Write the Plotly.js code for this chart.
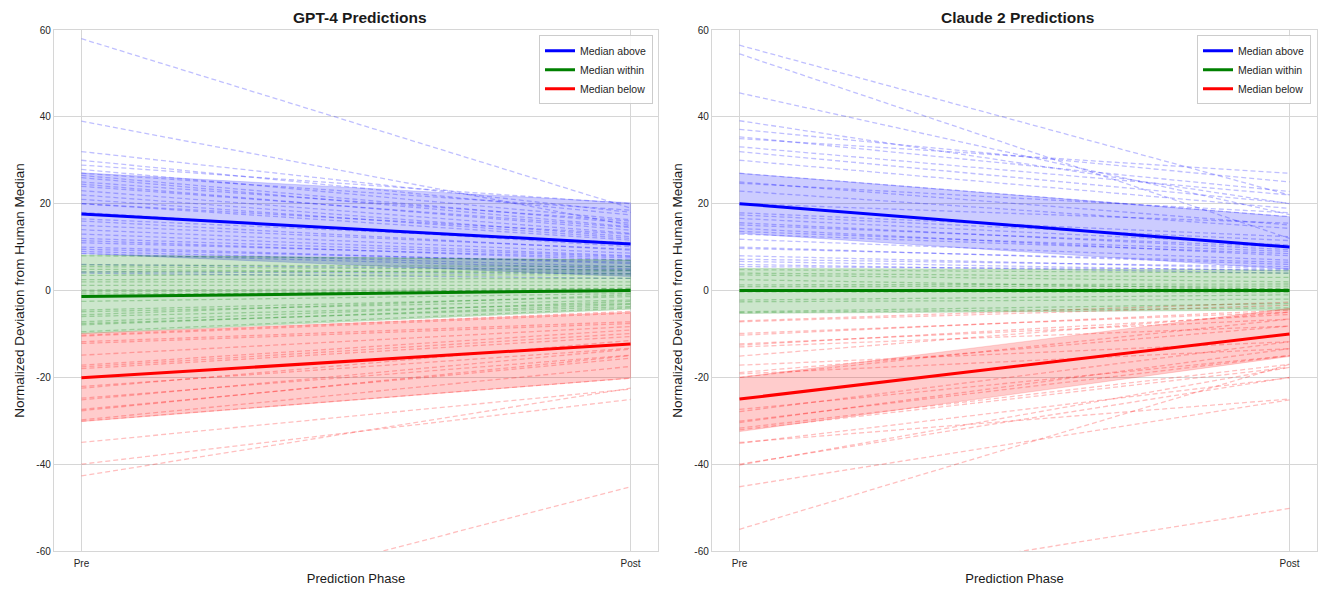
<!DOCTYPE html>
<html>
<head>
<meta charset="utf-8">
<script src="https://cdn.plot.ly/plotly-3.0.1.min.js"></script>
<style>html,body{margin:0;padding:0;background:#fff;}#chart{width:1329px;height:598px;}</style>
</head>
<body>
<div id="chart"></div>
<script>
// ---------- DATA ----------
const phases = ['Pre', 'Post'];
const panelTitles = ['GPT-4 Predictions', 'Claude 2 Predictions'];
const legendNames = ['Median above', 'Median within', 'Median below'];
const yTickValues = [-60, -40, -20, 0, 20, 40, 60];
const yTickLabels = ['-60', '-40', '-20', '0', '20', '40', '60'];

// GPT-4 individual questions
const gpt4AbovePre  = [58, 39, 32, 30, 28.9, 27.9, 27, 26.5, 26, 25, 24.5, 24, 23, 22, 21, 20, 20, 18, 16.5, 16, 15, 14, 13, 12, 11.5, 11, 10, 9.5, 9, 8.5, 6, 4.3, 4];
const gpt4AbovePost = [19, 15, 18, 17.4, 20, 16.3, 18.5, 15.5, 14.7, 16, 13.9, 14.5, 13.2, 12.4, 12, 11.6, 13, 10.1, 11, 9.3, 9.5, 8.6, 8, 7.8, 7, 7.5, 6.2, 6.5, 5.5, 5, 4.7, 3.9, 2.8];
const gpt4WithinPre  = [8, 5.9, 5.5, 4.9, 4.3, 3.5, 2.5, 2.0, 1.2, 0.1, -0.3, -0.8, -1.3, -2.5, -4.5, -4.9, -5.6, -6.0, -7.2, -7.6, -7.9, -9.5];
const gpt4WithinPost = [7, 5.5, 4.7, 3.9, 4.5, 3.6, 2.8, 2.0, 1.2, 0.5, 0.1, -0.3, 0.5, -0.7, -1.4, -2.2, -1.0, -3.0, -2.5, -3.7, -3.2, -4.0];
const gpt4BelowPre  = [-10.3, -10.5, -11.8, -12.2, -14.9, -17.2, -17.6, -18, -22.1, -22.5, -24.8, -25.2, -27.4, -27.7, -29.8, -30.1, -35, -40, -42.7, -78];
const gpt4BelowPost = [-4.8, -5.2, -7.2, -7.6, -8.3, -9.1, -9.9, -10.6, -13.3, -11.5, -14.9, -13.5, -15.6, -15, -17.5, -20.2, -22.7, -25.1, -22.5, -45.2];

// GPT-4 medians and bands
const gpt4MedAbove  = [17.6, 10.7];
const gpt4MedWithin = [-1.4, 0];
const gpt4MedBelow  = [-20.1, -12.3];
const gpt4AboveLow  = [8.5, 3.2],   gpt4AboveHigh  = [27.1, 20.2];
const gpt4WithinLow = [-9.9, -4.3], gpt4WithinHigh = [8.2, 7.0];
const gpt4BelowLow  = [-30.2, -20.2], gpt4BelowHigh = [-9.9, -5.0];

// Claude 2 individual questions
const claudeAbovePre  = [56.5, 54.5, 45.5, 39.1, 37.1, 35.4, 35.0, 33.1, 32.0, 30.0, 27, 25.0, 24.7, 22.9, 20, 17.9, 17.4, 16.6, 15.6, 15.1, 14.3, 13.6, 13.0, 11.8, 10.0, 9.7, 8.0, 7.2, 6.7, 6.0, 5.5];
const claudeAbovePost = [22, 12, 17.5, 20, 25, 22.8, 27, 22, 20.1, 18.9, 17, 15.1, 17.9, 14.3, 15.5, 12.4, 11.5, 10.5, 9.4, 10, 8, 9, 8.5, 7, 6, 6.5, 5, 5.5, 4.5, 4.0, 4.8];
const claudeWithinPre  = [4.8, 4.0, 3.6, 2.5, 1.3, 0.9, 0.1, -0.3, -2.2, -2.6, -4.9, -5.1];
const claudeWithinPost = [4.0, 3.0, 2.0, 0.3, 1.5, 1.0, 0.5, -0.5, -1.0, -2.0, -3.0, -4.0];
const claudeBelowPre  = [-7.0, -7.2, -9.9, -10.3, -12.3, -12.6, -13.0, -15.1, -17.2, -18.9, -19.2, -20.0, -27.4, -27.9, -30.1, -30.4, -31.7, -32.1, -35.0, -35.2, -40.0, -40.2, -45.2, -55.0, -70.4];
const claudeBelowPost = [-2.7, -3.4, -5.0, -4.5, -6.6, -5.5, -8.2, -5.0, -11.8, -8.2, -13.4, -6.6, -15.0, -11.8, -15.0, -13.4, -17.0, -17.7, -25.0, -20.1, -20.0, -17.7, -25.2, -17.0, -50.2];

// Claude 2 medians and bands
const claudeMedAbove  = [20, 10];
const claudeMedWithin = [0, 0];
const claudeMedBelow  = [-25, -10];
const claudeAboveLow  = [13.2, 4.9],  claudeAboveHigh  = [27, 17];
const claudeWithinLow = [-5.3, -4.5], claudeWithinHigh = [5.1, 4.7];
const claudeBelowLow  = [-32.5, -15.2], claudeBelowHigh = [-20, -4.1];

// ---------- BUILD ----------
const colors = ['0,0,255', '0,128,0', '255,0,0'];
const panels = [
  {groups: [[gpt4AbovePre, gpt4AbovePost], [gpt4WithinPre, gpt4WithinPost], [gpt4BelowPre, gpt4BelowPost]],
   meds: [gpt4MedAbove, gpt4MedWithin, gpt4MedBelow],
   bands: [[gpt4AboveLow, gpt4AboveHigh], [gpt4WithinLow, gpt4WithinHigh], [gpt4BelowLow, gpt4BelowHigh]]},
  {groups: [[claudeAbovePre, claudeAbovePost], [claudeWithinPre, claudeWithinPost], [claudeBelowPre, claudeBelowPost]],
   meds: [claudeMedAbove, claudeMedWithin, claudeMedBelow],
   bands: [[claudeAboveLow, claudeAboveHigh], [claudeWithinLow, claudeWithinHigh], [claudeBelowLow, claudeBelowHigh]]}
];

const traces = [];
panels.forEach((p, pi) => {
  const xa = pi === 0 ? 'x' : 'x2', ya = pi === 0 ? 'y' : 'y2';
  p.groups.forEach((g, gi) => {
    for (let i = 0; i < g[0].length; i++) {
      traces.push({type: 'scatter', mode: 'lines', x: phases, y: [g[0][i], g[1][i]], xaxis: xa, yaxis: ya,
        line: {color: 'rgba(' + colors[gi] + ',0.25)', width: 1.3, dash: '5px,3px'},
        showlegend: false, hoverinfo: 'skip'});
    }
  });
  p.bands.forEach((b, gi) => {
    traces.push({type: 'scatter', mode: 'lines', x: phases.concat(phases.slice().reverse()),
      y: b[0].concat(b[1].slice().reverse()), xaxis: xa, yaxis: ya, fill: 'toself',
      fillcolor: 'rgba(' + colors[gi] + ',0.2)', line: {color: 'rgba(' + colors[gi] + ',0.2)', width: 0.8},
      showlegend: false, hoverinfo: 'skip'});
  });
  p.meds.forEach((m, gi) => {
    traces.push({type: 'scatter', mode: 'lines', x: phases, y: m, xaxis: xa, yaxis: ya,
      name: legendNames[gi], legend: pi === 0 ? 'legend' : 'legend2',
      line: {color: 'rgb(' + colors[gi] + ')', width: 3}, showlegend: true});
  });
});

const font = 'Liberation Sans, Arial, sans-serif';
const gridC = '#d6d6d6';
function xax(domain, anchor) {
  return {domain: domain, anchor: anchor, type: 'category', range: [-0.05, 1.05],
    showgrid: true, gridcolor: gridC, gridwidth: 1, showline: true, linecolor: gridC, linewidth: 1.2, mirror: true,
    ticks: '', ticklabelstandoff: 3, tickfont: {size: 10, color: '#262626', family: font}, zeroline: false,
    title: {text: 'Prediction Phase', font: {size: 13, color: '#1a1a1a', family: font}, standoff: 5}};
}
function yax(anchor) {
  return {anchor: anchor, domain: [0, 1], range: [-60, 60], tickvals: yTickValues, ticktext: yTickLabels,
    showgrid: true, gridcolor: gridC, gridwidth: 1, showline: true, linecolor: gridC, linewidth: 1.2, mirror: true,
    ticks: '', tickfont: {size: 10, color: '#262626', family: font}, zeroline: false,
    title: {text: 'Normalized Deviation from Human Median', font: {size: 13.5, color: '#1a1a1a', family: font}, standoff: 8}};
}
function leg(xr) {
  return {x: xr, xanchor: 'right', y: 0.99, yanchor: 'top', bgcolor: 'rgba(255,255,255,0.85)',
    bordercolor: '#cccccc', borderwidth: 1, itemwidth: 30, font: {size: 10.5, color: '#262626', family: font}, tracegroupgap: 0};
}
const layout = {
  width: 1329, height: 598, margin: {l: 0, r: 0, t: 30, b: 46.5}, paper_bgcolor: '#fff', plot_bgcolor: '#fff',
  font: {family: font},
  xaxis: xax([54 / 1329, 658 / 1329], 'y'),
  yaxis: yax('x'),
  xaxis2: xax([712 / 1329, 1317 / 1329], 'y2'),
  yaxis2: yax('x2'),
  legend: leg(653 / 1329),
  legend2: leg(1311 / 1329),
  annotations: [
    {text: '<b>' + panelTitles[0] + '</b>', xref: 'paper', yref: 'paper', x: 360 / 1329, xanchor: 'center', y: 1, yanchor: 'bottom', yshift: 2, showarrow: false, font: {size: 15.5, color: '#1a1a1a', family: font}},
    {text: '<b>' + panelTitles[1] + '</b>', xref: 'paper', yref: 'paper', x: 1017 / 1329, xanchor: 'center', y: 1, yanchor: 'bottom', yshift: 2, showarrow: false, font: {size: 15.5, color: '#1a1a1a', family: font}}
  ]
};
Plotly.newPlot('chart', traces, layout, {displayModeBar: false, staticPlot: true});
</script>
</body>
</html>
